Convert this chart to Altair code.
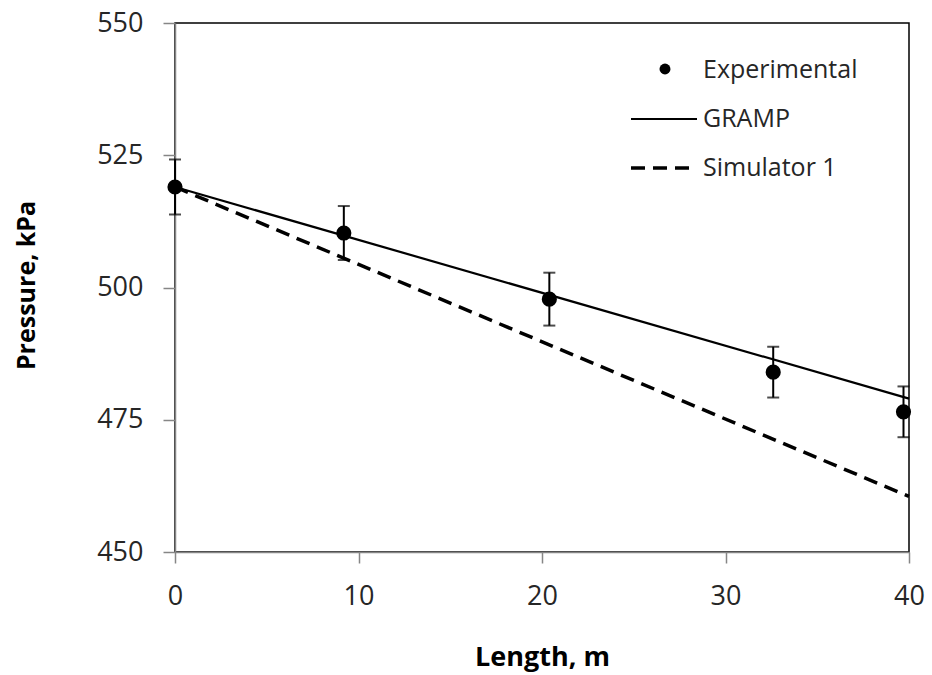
import altair as alt
import pandas as pd

# Measured pressures along the pipe
length_exp = [0.0, 9.2, 20.4, 32.6, 39.7]
pressure_exp = [519.0, 510.3, 497.8, 484.0, 476.5]
pressure_err = [5.2, 5.1, 5.0, 4.8, 4.8]

# Model predictions (straight-line profiles)
model_length = [0.0, 40.0]
gramp_pressure = [519.0, 479.0]
sim1_pressure = [519.0, 460.5]

exp_df = pd.DataFrame({
    "length": length_exp,
    "pressure": pressure_exp,
    "lo": [p - e for p, e in zip(pressure_exp, pressure_err)],
    "hi": [p + e for p, e in zip(pressure_exp, pressure_err)],
})
gramp_df = pd.DataFrame({"length": model_length, "pressure": gramp_pressure})
sim_df = pd.DataFrame({"length": model_length, "pressure": sim1_pressure})

FONT = "Open Sans"
AXIS_GREY = "#868686"
LABEL_COLOR = "#262626"

x_scale = alt.Scale(domain=[0, 40], nice=False, zero=False)
y_scale = alt.Scale(domain=[450, 550], nice=False, zero=False)

x_enc = alt.X(
    "length:Q", scale=x_scale,
    axis=alt.Axis(
        title="Length, m", values=[0, 10, 20, 30, 40], grid=False, labelFlush=False,
        domainColor=AXIS_GREY, domainWidth=1.5, tickColor=AXIS_GREY, tickWidth=1.5,
        tickSize=11, labelPadding=20, labelFontSize=27, labelFont=FONT, labelColor=LABEL_COLOR,
        titleFont=FONT, titleFontSize=27, titleFontWeight="bold", titleColor="#000",
        titleY=113, titleBaseline="alphabetic",
    ),
)
y_enc = alt.Y(
    "pressure:Q", scale=y_scale,
    axis=alt.Axis(
        title="Pressure, kPa", values=[450, 475, 500, 525, 550], grid=False, labelFlush=False,
        domainColor=AXIS_GREY, domainWidth=1.5, tickColor=AXIS_GREY, tickWidth=1.5,
        tickSize=12, labelPadding=20, labelFontSize=27, labelFont=FONT, labelColor=LABEL_COLOR,
        titleFont=FONT, titleFontSize=25, titleFontWeight="bold", titleColor="#000",
        titleX=-149, titleY=262, titleAngle=-90, titleAlign="center", titleBaseline="middle",
    ),
)

gramp_line = alt.Chart(gramp_df).mark_line(color="black", strokeWidth=2.2).encode(x=x_enc, y=y_enc)
sim_line = alt.Chart(sim_df).mark_line(
    color="black", strokeWidth=3.5, strokeDash=[14, 8]
).encode(x="length:Q", y="pressure:Q")

err_rule = alt.Chart(exp_df).mark_rule(color="black", strokeWidth=2).encode(
    x="length:Q", y="lo:Q", y2="hi:Q"
)
cap_lo = alt.Chart(exp_df).mark_tick(
    color="black", orient="horizontal", size=12, thickness=2
).encode(x="length:Q", y="lo:Q")
cap_hi = alt.Chart(exp_df).mark_tick(
    color="black", orient="horizontal", size=12, thickness=2
).encode(x="length:Q", y="hi:Q")
points = alt.Chart(exp_df).mark_point(
    filled=True, color="black", opacity=1, size=230, shape="circle"
).encode(x="length:Q", y="pressure:Q")

# Legend drawn in the upper-right corner of the plot area
legend_src = alt.Chart(pd.DataFrame({"k": [0]}))
leg_text_style = dict(font=FONT, fontSize=25, color=LABEL_COLOR, align="left", baseline="middle")
leg_point = legend_src.mark_point(filled=True, color="black", opacity=1, size=120).encode(
    x=alt.value(490), y=alt.value(46)
)
leg_exp = legend_src.mark_text(text="Experimental", **leg_text_style).encode(
    x=alt.value(528), y=alt.value(47)
)
leg_gramp_line = legend_src.mark_rule(color="black", strokeWidth=2.2).encode(
    x=alt.value(456), x2=alt.value(522), y=alt.value(96)
)
leg_gramp = legend_src.mark_text(text="GRAMP", **leg_text_style).encode(
    x=alt.value(528), y=alt.value(96)
)
leg_sim_line = legend_src.mark_rule(color="black", strokeWidth=3.5, strokeDash=[14, 8]).encode(
    x=alt.value(456), x2=alt.value(522), y=alt.value(145)
)
leg_sim = legend_src.mark_text(text="Simulator 1", **leg_text_style).encode(
    x=alt.value(528), y=alt.value(145)
)

chart = alt.layer(
    gramp_line, sim_line, err_rule, cap_lo, cap_hi, points,
    leg_point, leg_exp, leg_gramp_line, leg_gramp, leg_sim_line, leg_sim,
).properties(
    width=734, height=529,
    autosize=alt.AutoSizeParams(type="none"),
    padding={"left": 175, "top": 23, "right": 23, "bottom": 123},
    background="white",
).configure_view(stroke="black", strokeWidth=1.5)

chart.save("out.html", embed_options={"renderer": "svg", "actions": False})
